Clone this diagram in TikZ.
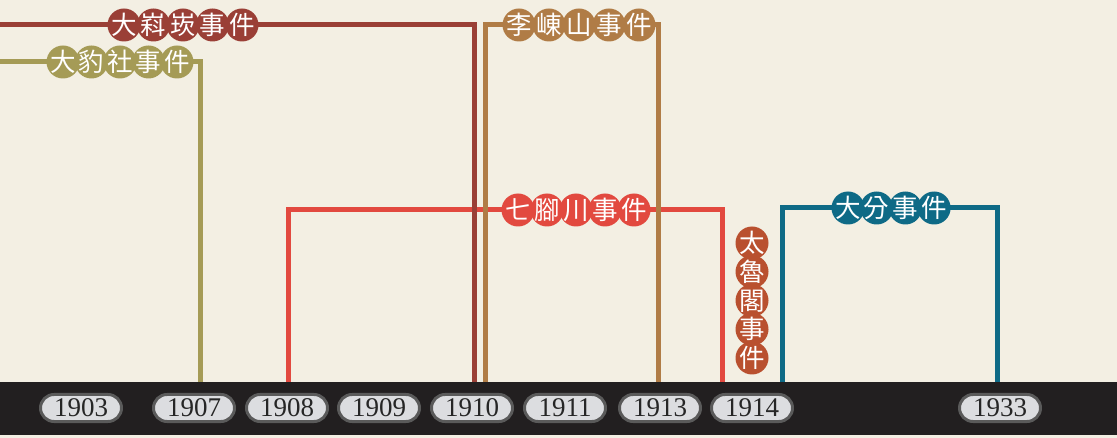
\documentclass[tikz,border=0pt]{standalone}
\usepackage{fontspec}
\setmainfont{Liberation Serif}
\newfontfamily\cjk{Noto Sans CJK TC}
\usetikzlibrary{positioning}

\definecolor{bgcol}{HTML}{F3EFE3}
\definecolor{bandcol}{HTML}{221F20}
\definecolor{pillcol}{HTML}{DCDDE0}
\definecolor{pillline}{HTML}{5A5A5A}
\definecolor{dkred}{HTML}{9A3F36}
\definecolor{olive}{HTML}{A59B56}
\definecolor{tan}{HTML}{B07C46}
\definecolor{brred}{HTML}{E2493F}
\definecolor{rust}{HTML}{B9502F}
\definecolor{teal}{HTML}{0E6A86}

% zero-size character, centred in its circle
\newcommand{\zch}[1]{\makebox[0pt]{\raisebox{-.38em}[0pt][0pt]{#1}}}

\tikzset{
  evtline/.style={line width=5pt, line join=miter},
  evt/.style={circle, minimum size=33pt, inner sep=0pt, text=white,
    font=\cjk\fontsize{25.5}{25.5}\selectfont},
  yearpill/.style={draw=pillline, fill=pillcol, line width=3pt,
    rounded corners=13.5pt, minimum width=81pt, minimum height=27pt,
    inner sep=0pt, text=black!85, font=\fontsize{27}{27}\selectfont},
}

\begin{document}
\begin{tikzpicture}[x=1pt, y=-1pt]
    \useasboundingbox (0,0) rectangle (1117,438);
    \fill[bgcol] (0,0) rectangle (1117,438);

    % Points
    \coordinate (qS) at (288,382);
    \coordinate (qT) at (722,210);
    \coordinate (qE) at (722,382);
    \coordinate (kS) at (0,25);
    \coordinate (kE) at (474,382);
    \coordinate (bS) at (0,62);
    \coordinate (bE) at (200,382);
    \coordinate (lS) at (485,382);
    \coordinate (lT) at (658,25);
    \coordinate (lE) at (658,382);
    \coordinate (fS) at (782,382);
    \coordinate (fT) at (997,208);
    \coordinate (fE) at (997,382);

    % 七腳川事件
    \draw[evtline, brred] (qS) |- (qT) -- (qE);
    \foreach \c [count=\i from 0] in {七,腳,川,事,件}
      \node[evt, fill=brred] (q\i) at ({518+29*\i},210) {\zch{\c}};

    % 大嵙崁事件
    \draw[evtline, dkred] (kS) -| (kE);
    \foreach \c [count=\i from 0] in {大,嵙,崁,事,件}
      \node[evt, fill=dkred] (k\i) at ({124+29.5*\i},25) {\zch{\c}};

    % 大豹社事件
    \draw[evtline, olive] (bS) -| (bE);
    \foreach \c [count=\i from 0] in {大,豹,社,事,件}
      \node[evt, fill=olive] (b\i) at ({63+28.5*\i},62) {\zch{\c}};

    % 李崠山事件
    \draw[evtline, tan] (lS) |- (lT) -- (lE);
    \foreach \c [count=\i from 0] in {李,崠,山,事,件}
      \node[evt, fill=tan] (l\i) at ({519+30*\i},25) {\zch{\c}};

    % 太魯閣事件
    \foreach \c [count=\i from 0] in {太,魯,閣,事,件}
      \node[evt, fill=rust] (t\i) at (752,{243+28.75*\i}) {\zch{\c}};

    % 大分事件
    \draw[evtline, teal] (fS) |- (fT) -- (fE);
    \foreach \c [count=\i from 0] in {大,分,事,件}
      \node[evt, fill=teal] (f\i) at ({848+28.7*\i},208) {\zch{\c}};

    % Year band
    \fill[bandcol] (0,382) rectangle (1117,435);
    \foreach \yr/\x in {1903/81, 1907/194, 1908/287, 1909/379, 1910/472,
                        1911/565, 1913/660, 1914/752, 1933/1000}
      \node[yearpill] (y\yr) at (\x,408) {\yr};
\end{tikzpicture}
\end{document}
